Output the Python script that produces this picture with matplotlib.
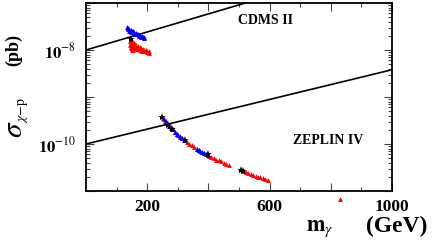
import matplotlib
matplotlib.use("Agg")
import matplotlib.pyplot as plt
import numpy as np

plt.rcParams['mathtext.fontset'] = 'stix'
plt.rcParams['font.family'] = ['Liberation Serif', 'DejaVu Serif']

# ---- data (mass in GeV, log10 of cross-section in pb) ----
cdms_m = [0, 1000]
cdms_logsig = [-8.0, -6.08]
zeplin_m = [0, 1000]
zeplin_logsig = [-10.0, -8.42]

upper_blue_m = [134, 138, 142, 146, 150, 154, 158, 162, 166, 170, 174, 178, 182, 186, 190,
                136, 142, 148, 156, 164, 172, 180, 188]
upper_blue_log = [-7.52, -7.54, -7.56, -7.57, -7.59, -7.60, -7.62, -7.63, -7.65, -7.66, -7.68, -7.69, -7.70, -7.72, -7.73,
                  -7.56, -7.59, -7.61, -7.64, -7.67, -7.70, -7.72, -7.75]
upper_red_m = [144, 146, 148, 150, 152, 156, 160, 165, 170, 175, 180, 185, 190, 195, 200, 205,
               145, 148, 152, 156, 162, 168, 175, 182, 190, 198, 206,
               147, 150, 154]
upper_red_log = [-7.80, -7.84, -7.88, -7.92, -7.84, -7.86, -7.88, -7.90, -7.92, -7.93, -7.95, -7.97, -7.99, -8.00, -8.02, -8.03,
                 -7.90, -7.94, -7.96, -7.94, -7.96, -7.98, -8.00, -8.02, -8.03, -8.05, -8.06,
                 -7.96, -7.99, -8.00]
upper_star_m = [147]
upper_star_log = [-7.76]

lower_red_m = [250, 258, 266, 274, 282, 290, 298, 306, 314, 322, 330, 338, 346, 354, 362, 370,
               378, 386, 394, 402, 410, 418, 426, 434, 442, 450, 458, 466,
               515, 522, 530, 538, 546, 554, 562, 570, 578, 586, 594, 830]
lower_red_log = [-9.44, -9.50, -9.56, -9.62, -9.68, -9.74, -9.79, -9.84, -9.88, -9.92, -9.96, -10.00, -10.03, -10.07, -10.10, -10.13,
                 -10.16, -10.19, -10.22, -10.25, -10.27, -10.30, -10.33, -10.35, -10.37, -10.40, -10.42, -10.44,
                 -10.58, -10.60, -10.62, -10.64, -10.66, -10.68, -10.70, -10.71, -10.73, -10.74, -10.76, -11.17]
lower_blue_m = [254, 260, 266, 272, 278, 284, 290, 296, 302, 308, 314, 320,
                362, 368, 374, 380, 386, 392, 398]
lower_blue_log = [-9.47, -9.51, -9.56, -9.61, -9.65, -9.69, -9.74, -9.78, -9.81, -9.85, -9.88, -9.91,
                  -10.10, -10.12, -10.14, -10.17, -10.19, -10.21, -10.23]
lower_star_m = [248, 268, 280, 324, 399, 507, 512]
lower_star_log = [-9.43, -9.60, -9.68, -9.92, -10.21, -10.56, -10.58]

xtick_major = [200, 400, 600, 800, 1000]
xtick_labels = ['200', '', '600', '', '1000']
ytick_major = [1e-11, 1e-10, 1e-9, 1e-8, 1e-7]
ytick_labels = ['', r'$\mathbf{10}^{-10}$', '', r'$\mathbf{10}^{-8}$', '']

def p(v):
    return 10.0 ** np.asarray(v)

W, H = 436, 242
fig = plt.figure(figsize=(W / 100, H / 100), dpi=100)
ax = fig.add_axes([86 / W, 1 - 191 / H, (392 - 86) / W, (191 - 3) / H])
ax.set_xlim(0, 1000)
ax.set_yscale('log')
ax.set_ylim(1e-11, 1e-7)

ax.plot(cdms_m, p(cdms_logsig), color='black', lw=1.2, zorder=2)
ax.plot(zeplin_m, p(zeplin_logsig), color='black', lw=1.2, zorder=2)

ms = 3.5
ax.plot(upper_red_m, p(upper_red_log), ls='none', marker='^', ms=ms, color='#ff0000', mew=0, zorder=3)
ax.plot(upper_blue_m, p(upper_blue_log), ls='none', marker='^', ms=ms, color='#0000ff', mew=0, zorder=4)
ax.plot(lower_red_m, p(lower_red_log), ls='none', marker='^', ms=ms, color='#ff0000', mew=0, zorder=3, clip_on=False)
ax.plot(lower_blue_m, p(lower_blue_log), ls='none', marker='^', ms=ms, color='#0000ff', mew=0, zorder=4)
ax.plot(upper_star_m, p(upper_star_log), ls='none', marker='*', ms=6, color='black', mew=0, zorder=5)
ax.plot(lower_star_m, p(lower_star_log), ls='none', marker='*', ms=6, color='black', mew=0, zorder=5)

ax.text(585, p(-7.37), 'CDMS II', fontsize=10, fontweight='bold', ha='center', va='center')
ax.text(790, p(-9.92), 'ZEPLIN IV', fontsize=10, fontweight='bold', ha='center', va='center')

ax.set_xticks(xtick_major)
ax.set_xticklabels(xtick_labels, fontsize=12.5, fontweight='bold')
ax.set_xticks(np.arange(100, 1000, 200), minor=True)
ax.set_yticks(ytick_major)
ax.set_yticklabels(ytick_labels, fontsize=12)
ax.tick_params(which='both', direction='in', top=True, right=True, color='#444444')
ax.tick_params(which='major', length=6, width=0.8)
ax.tick_params(which='minor', length=3, width=0.8)
ax.tick_params(axis='x', pad=6)
ax.tick_params(axis='y', pad=7)
for s in ax.spines.values():
    s.set_linewidth(1.3)

def ft(x, y, s, **kw):
    fig.text(x / W, 1 - y / H, s, **kw)

ft(320, 229, r'$\mathbf{m}_{\gamma}$', fontsize=16, ha='center', va='center')
ft(397, 226, '(GeV)', fontsize=17, fontweight='bold', ha='center', va='center')
ft(15, 129, r'$\sigma$', fontsize=21, rotation=90, ha='center', va='center')
ft(22, 110, r'$\chi\mathrm{-p}$', fontsize=10, rotation=90, ha='center', va='center')
ft(14, 50, '(pb)', fontsize=13, fontweight='bold', rotation=90, ha='center', va='center')

fig.savefig('out.png', dpi=100)
